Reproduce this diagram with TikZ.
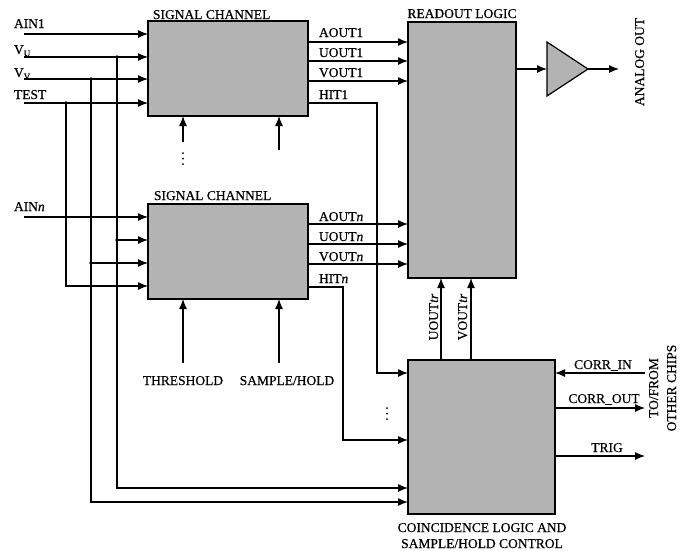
\documentclass[tikz,border=0pt]{standalone}
\usepackage{fontspec}
\setmainfont{Liberation Serif}[FakeBold=0.5]
\usetikzlibrary{arrows.meta}
\definecolor{blkgray}{RGB}{179,179,179}
\begin{document}
\begin{tikzpicture}[x=1pt,y=-1pt,
  every node/.style={font=\fontsize{13.5}{15}\selectfont, inner sep=0pt, outer sep=0pt},
  blk/.style={draw, line width=1.3pt, fill=blkgray, anchor=north west, inner sep=0pt, outer sep=0pt},
  wire/.style={line width=1.2pt},
  arr/.style={wire, -{Latex[length=10pt,width=8pt]}},
  lbl/.style={anchor=base west},
  clbl/.style={anchor=base},
  rlbl/.style={anchor=base, rotate=90},
  jdot/.style={circle, fill, minimum size=3.8pt, inner sep=0pt}]
\useasboundingbox (0,0) rectangle (692,550);

% blocks
\node[blk, minimum width=160pt, minimum height=95pt] (sc1) at (148,21) {};
\node[blk, minimum width=160pt, minimum height=95pt] (sc2) at (148,204) {};
\node[blk, minimum width=108pt, minimum height=256pt] (ro) at (408,22) {};
\node[blk, minimum width=147pt, minimum height=154pt] (co) at (408,360) {};

% amplifier
\coordinate (ampin) at (547,69);
\coordinate (ampout) at (588,69);
\draw[line width=1.2pt, fill=blkgray] (547,42) -- (ampout) -- (547,96) -- cycle;

% block titles
\node[lbl] (t1) at (153,19) {SIGNAL CHANNEL};
\node[lbl] (t2) at (154,200) {SIGNAL CHANNEL};
\node[clbl] (t3) at (462,18) {READOUT LOGIC};
\node[clbl] (t4) at (482,532) {COINCIDENCE LOGIC AND};
\node[clbl] (t5) at (482,548) {SAMPLE/HOLD CONTROL};

% input labels
\node[lbl] (lain1) at (14,28) {AIN1};
\node[lbl] (lvu) at (14,54) {V\raisebox{-2.5pt}{\fontsize{9}{9}\selectfont U}};
\node[lbl] (lvv) at (14,77) {V\raisebox{-2.5pt}{\fontsize{9}{9}\selectfont V}};
\node[lbl] (ltest) at (14,99) {TEST};
\node[lbl] (lainn) at (14,211) {AIN\textit{n}};

% input wires
\coordinate (ain1) at (24,34);
\coordinate (vu) at (24,57);
\coordinate (vv) at (24,79);
\coordinate (test) at (24,103);
\coordinate (ainn) at (24,217);
\draw[arr] (ain1) -- (ain1 -| sc1.west);
\draw[arr] (vu) -- (vu -| sc1.west);
\draw[arr] (vv) -- (vv -| sc1.west);
\draw[arr] (test) -- (test -| sc1.west);
\draw[arr] (ainn) -- (ainn -| sc2.west);

% junctions and buses
\node[jdot] (jvu) at (117,57) {};
\node[jdot] (jvv) at (91,79) {};
\node[jdot] (jtest) at (66,103) {};
\node[jdot] (jvu2) at (117,240) {};
\node[jdot] (jvv2) at (91,263) {};
\coordinate (testin2) at (148,286);
\coordinate (vubot) at (117,488);
\coordinate (vvbot) at (91,502);
\draw[arr] (jtest.center) |- (testin2);
\draw[arr] (jvu.center) -- (vubot) -- (vubot -| co.west);
\draw[arr] (jvv.center) -- (vvbot) -- (vvbot -| co.west);
\draw[arr] (jvu2.center) -- (jvu2 -| sc2.west);
\draw[arr] (jvv2.center) -- (jvv2 -| sc2.west);

% bottom control inputs
\coordinate (sc1a) at (183,142);
\coordinate (sc1b) at (279,150);
\draw[arr] (sc1a) -- (sc1a |- sc1.south);
\draw[arr] (sc1b) -- (sc1b |- sc1.south);
\fill (183,153) circle (1pt) (183,158.5) circle (1pt) (183,164) circle (1pt);
\node[clbl] (thr) at (183,385) {THRESHOLD};
\node[clbl] (sh) at (287,385) {SAMPLE/HOLD};
\coordinate (thra) at (183,363);
\coordinate (sha) at (279,363);
\draw[arr] (thra) -- (thra |- sc2.south);
\draw[arr] (sha) -- (sha |- sc2.south);

% channel 1 outputs
\node[lbl] (la1) at (319,37) {AOUT1};
\node[lbl] (lu1) at (319,57) {UOUT1};
\node[lbl] (lv1) at (319,77) {VOUT1};
\node[lbl] (lh1) at (319,99) {HIT1};
\coordinate (a1) at (308,42);
\coordinate (u1) at (308,61);
\coordinate (v1) at (308,81);
\coordinate (h1) at (308,103);
\coordinate (h1c) at (377,373);
\draw[arr] (a1) -- (a1 -| ro.west);
\draw[arr] (u1) -- (u1 -| ro.west);
\draw[arr] (v1) -- (v1 -| ro.west);
\draw[arr] (h1) -| (h1c) -- (h1c -| co.west);

% channel n outputs
\node[lbl] (lan) at (319,221) {AOUT\textit{n}};
\node[lbl] (lun) at (319,241) {UOUT\textit{n}};
\node[lbl] (lvn) at (319,261) {VOUT\textit{n}};
\node[lbl] (lhn) at (319,283) {HIT\textit{n}};
\coordinate (an) at (308,224);
\coordinate (un) at (308,244);
\coordinate (vn) at (308,264);
\coordinate (hn) at (308,287);
\coordinate (hnc) at (343,440);
\draw[arr] (an) -- (an -| ro.west);
\draw[arr] (un) -- (un -| ro.west);
\draw[arr] (vn) -- (vn -| ro.west);
\draw[arr] (hn) -| (hnc) -- (hnc -| co.west);
\fill (387,408) circle (1pt) (387,413.5) circle (1pt) (387,419) circle (1pt);

% readout output and amplifier
\coordinate (roout) at (516,69);
\coordinate (aout) at (619,69);
\draw[arr] (roout) -- (ampin);
\draw[arr] (ampout) -- (aout);
\node[rlbl] (lao) at (644,62) {ANALOG OUT};

% tr lines
\coordinate (utr) at (441,360);
\coordinate (vtr) at (471,360);
\draw[arr] (utr) -- (utr |- ro.south);
\draw[arr] (vtr) -- (vtr |- ro.south);
\node[rlbl] (lutr) at (438,317) {UOUT\textit{tr}};
\node[rlbl] (lvtr) at (467,317) {VOUT\textit{tr}};

% coincidence right side
\coordinate (cin) at (645,373);
\coordinate (cout) at (645,408);
\coordinate (trig) at (645,456);
\draw[arr] (cin) -- (cin -| co.east);
\draw[arr] (cout -| co.east) -- (cout);
\draw[arr] (trig -| co.east) -- (trig);
\node[clbl] (lcin) at (603,369) {CORR\_IN};
\node[clbl] (lcout) at (604,403) {CORR\_OUT};
\node[clbl] (ltrig) at (607,452) {TRIG};
\node[rlbl] (ltf1) at (658,388) {TO/FROM};
\node[rlbl] (ltf2) at (676,388) {OTHER CHIPS};
\end{tikzpicture}
\end{document}
